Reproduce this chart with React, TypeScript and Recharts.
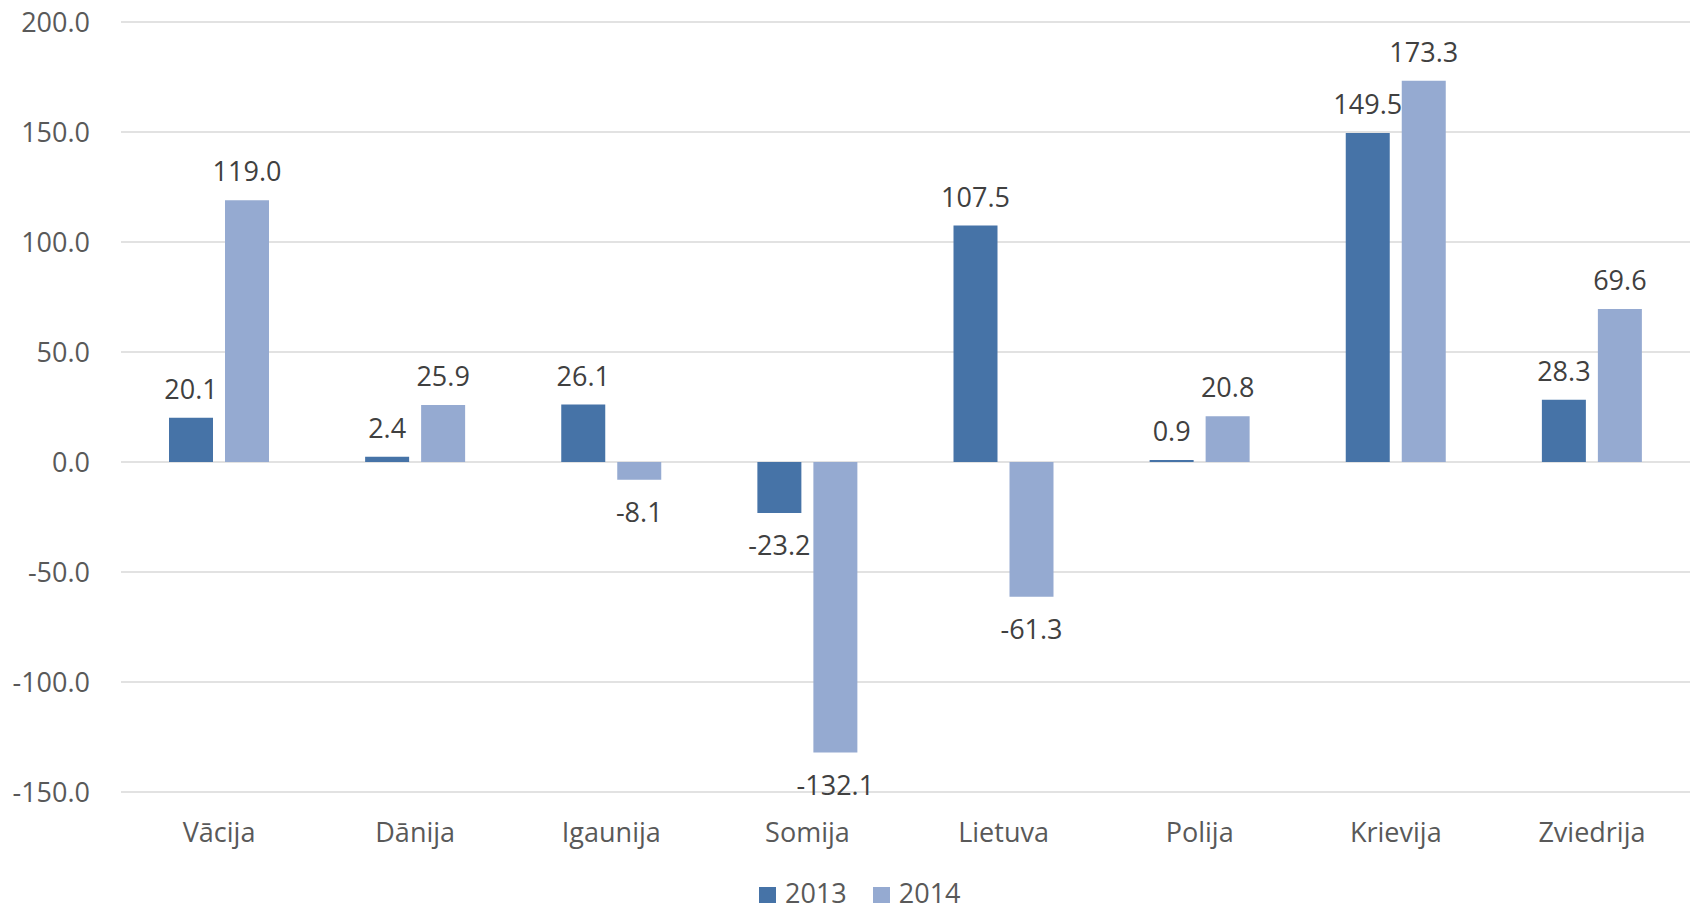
import React from "react";
import { BarChart, Bar, XAxis, YAxis, CartesianGrid, LabelList, Legend } from "recharts";

const categories = ["Vācija", "Dānija", "Igaunija", "Somija", "Lietuva", "Polija", "Krievija", "Zviedrija"];
const values2013 = [20.1, 2.4, 26.1, -23.2, 107.5, 0.9, 149.5, 28.3];
const values2014 = [119.0, 25.9, -8.1, -132.1, -61.3, 20.8, 173.3, 69.6];
const yTicks = [-150, -100, -50, 0, 50, 100, 150, 200];
const seriesNames = ["2013", "2014"];
const colors = ["#4673A7", "#95AAD1"];

const data = categories.map((c, i) => ({ name: c, y2013: values2013[i], y2014: values2014[i] }));

const FONT = "'Open Sans', sans-serif";

const ValueLabel = (props: any) => {
  const { x, y, width, height, value } = props;
  const top = Math.min(y, y + height);
  const bottom = Math.max(y, y + height);
  const cx = x + width / 2;
  const baseline = value >= 0 ? top - 19 : bottom + 42;
  return (
    <text x={cx} y={baseline} textAnchor="middle" fontFamily={FONT} fontSize={27} fill="#404040">
      {Number(value).toFixed(1)}
    </text>
  );
};

const LegendContent = () => (
  <div style={{ display: "flex", alignItems: "center", fontFamily: FONT, fontSize: 27, color: "#595959", lineHeight: "42px", height: 42 }}>
    {seriesNames.map((n, i) => (
      <div key={n} style={{ display: "flex", alignItems: "center", marginRight: i === 0 ? 26 : 0 }}>
        <span style={{ display: "inline-block", width: 17, height: 16, background: colors[i], marginRight: 9, marginTop: 4 }} />
        <span style={{ whiteSpace: "nowrap" }}>{n}</span>
      </div>
    ))}
  </div>
);

export default function App() {
  return (
    <div style={{ position: "absolute", left: 0, top: 0, width: 1694, height: 909, background: "#fff" }}>
      <BarChart width={1694} height={909} data={data} margin={{ top: 22, right: 4, bottom: 0, left: 0 }} barSize={44} barGap={12}>
        <CartesianGrid vertical={false} stroke="#D9D9D9" strokeWidth={1.5} />
        <XAxis
          dataKey="name"
          axisLine={false}
          tickLine={false}
          tickSize={0}
          tickMargin={31}
          height={117}
          interval={0}
          tick={{ fontFamily: FONT, fontSize: 27, fill: "#595959" }}
        />
        <YAxis
          domain={[-150, 200]}
          ticks={yTicks}
          width={121}
          axisLine={false}
          tickLine={false}
          tickSize={0}
          tickMargin={31}
          tickFormatter={(v: number) => v.toFixed(1)}
          tick={{ fontFamily: FONT, fontSize: 27, fill: "#595959" }}
        />
        <Legend
          verticalAlign="middle"
          align="center"
          layout="horizontal"
          content={<LegendContent />}
          wrapperStyle={{ left: 759, top: 872, width: 260, height: 42, overflow: "visible" }}
        />
        <Bar dataKey="y2013" name="2013" fill={colors[0]} isAnimationActive={false}>
          <LabelList dataKey="y2013" content={<ValueLabel />} />
        </Bar>
        <Bar dataKey="y2014" name="2014" fill={colors[1]} isAnimationActive={false}>
          <LabelList dataKey="y2014" content={<ValueLabel />} />
        </Bar>
      </BarChart>
    </div>
  );
}
